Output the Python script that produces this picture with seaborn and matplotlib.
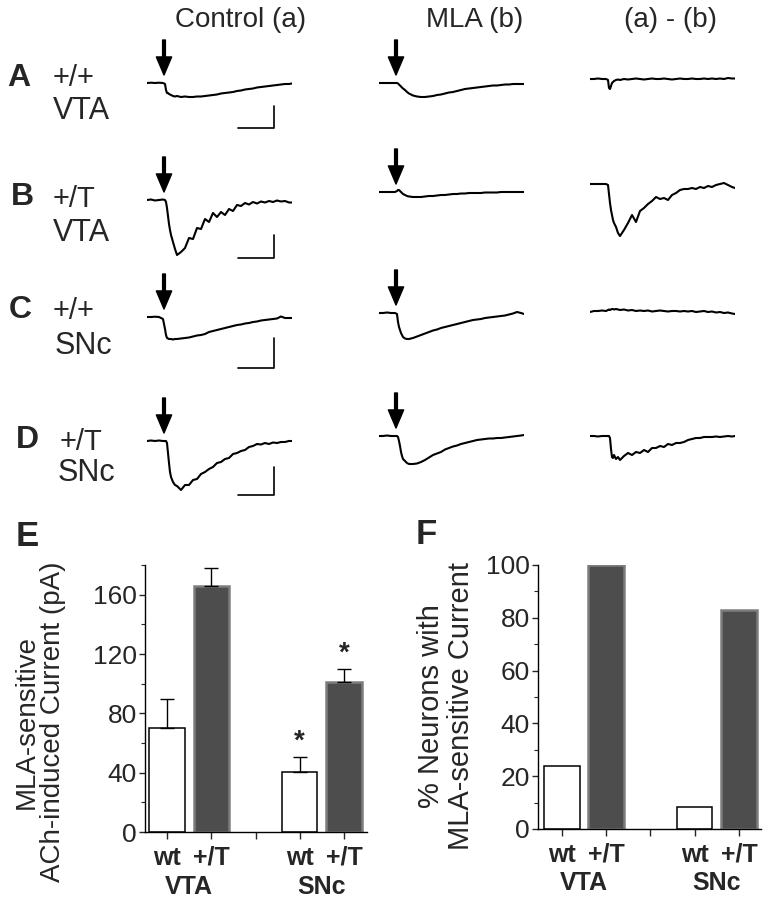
import matplotlib
matplotlib.use('Agg')
import matplotlib.pyplot as plt
import matplotlib.transforms as mtransforms
from matplotlib.ticker import MultipleLocator
import seaborn as sns
import pandas as pd

# ---------------------------------------------------------------
# Whole-cell current traces (rows A-D).
# Time base is shared by every trace (arbitrary units).
# ---------------------------------------------------------------
t = [0, 4, 8, 12, 16, 18, 19, 20, 21, 22, 23, 24, 26, 28, 30, 34, 38, 42, 46, 50,
     54, 58, 62, 66, 70, 74, 78, 82, 86, 90, 94, 98, 102, 106, 110, 114, 118, 122,
     126, 130, 134, 138, 142, 145]

# Control (a)
ctrl_A = [0, 0.3, 0, 0.3, 0, -1, -7, -10, -10, -11, -11.5, -12, -13, -13.5, -13, -14,
          -13.5, -14, -14, -13.5, -13.5, -13, -12.5, -12, -11.5, -10.5, -10, -9.5, -9,
          -8, -7.5, -6.5, -6, -5.5, -4.5, -4, -3.5, -3, -2.5, -2, -1.5, -1, -1, -0.5]
ctrl_B = [0, 0.5, -0.5, 0, 0.5, 0, -2, -8, -16, -24, -30, -35, -42, -49, -55, -52,
          -48, -38, -39, -28, -29, -19, -22, -13, -17, -12, -15, -9, -11, -5, -6, -3,
          -4.5, -2, -3.5, -1.5, -2.5, -1, -2, -0.5, -1.5, -1, -2.5, -2.5]
ctrl_C = [0, 0, 0.3, 0, -2, -12, -18, -21, -21.5, -22, -22, -22, -22.5, -22, -22, -21.5,
          -21, -20.5, -19.5, -18.5, -18, -17, -15, -14, -13, -12, -11, -10, -9, -8,
          -7.5, -6.5, -6, -5, -4.5, -3.5, -3, -2.5, -2, -1.5, 0.5, -1, -1, -1]
ctrl_D = [0, 0.5, 0, 0.5, 0, 0, 0, -2, -12, -22, -31, -36, -41, -44, -45, -49, -44,
          -44, -39, -38, -33, -31, -28, -26, -22, -21, -18, -17, -13, -12, -10, -9,
          -6, -5, -3, -3.5, -2, -3, -1.5, -2, -1, -1, 0, 0]

# MLA (b)
mla_A = [0, 0, 0, 0, 0, 0, -0.5, -1.5, -2.5, -3.5, -4.5, -5.5, -7, -9, -10.5, -12.5,
         -13.5, -14, -14, -13.5, -13, -12, -11.5, -10.5, -9.5, -9, -8, -7, -6, -5.5,
         -5, -4.5, -4, -3.5, -3, -2.5, -2.5, -2, -1.5, -1.5, -1, -1, -1, -1]
mla_B = [8, 8, 8, 8, 8, 9, 10, 10, 9, 8, 7, 6, 5, 4, 3.5, 3, 3, 3, 3.5, 4, 4, 4.5, 5,
         5, 5.5, 6, 6, 6.5, 6.5, 7, 7, 7, 7, 7.5, 7.5, 7.5, 7.5, 8, 8, 8, 8, 8, 8, 8]
mla_C = [4, 4, 4.5, 4, 4, 3, -5, -10, -13, -16, -18, -20, -21.5, -22, -22, -21, -19.5,
         -18, -16.5, -15, -13.5, -12.5, -11, -10, -9, -8, -7, -6, -5, -4, -3, -2.5,
         -2, -1, -0.5, 0, 0.5, 1, 1.5, 2.5, 3.5, 5, 4, 3]
mla_D = [5, 5, 5.5, 5, 5, 5, 4, 0, -5, -11, -15, -18, -20, -22, -23, -23, -22.5, -21,
         -19, -16.5, -14, -12.5, -11, -8.5, -7, -5.5, -4.5, -3, -2, -1, 0, 1, 1.5, 2,
         2.5, 2.5, 3, 3, 3.5, 4, 4.5, 5, 5.5, 6]

# (a) - (b)
diff_A = [4, 4, 4.5, 4, 4, 3, -5, -6, -3, 0, 1, 2, 3, 3.5, 3, 4, 3.5, 4, 4.5, 4, 3.5,
          4, 4.5, 4, 4, 4.5, 4, 3.5, 4, 4.5, 4, 4, 4.5, 4, 4, 4.5, 4, 4.5, 4, 4.5, 4,
          5, 4.5, 4.5]
diff_B = [16, 16, 16, 16, 16, 15, 6, -3, -10, -15, -20, -23, -27, -33, -36, -30, -23,
          -15, -22, -11, -8, -4, -1, 3, 1, 2, 0, 5, 7, 10, 11, 11, 12, 11, 13, 12, 14,
          13, 15, 16, 17, 15, 13, 12]
diff_C = [5, 6, 6, 6.5, 6, 7, 7.5, 7, 7.5, 8, 8, 7.5, 8, 7.5, 7, 7.5, 6.5, 7, 6, 6.5,
          6, 6.5, 5.5, 6, 6.5, 6, 5.5, 6, 6, 5.5, 6, 5.5, 6, 5, 5.5, 6, 5, 5.5, 4.5,
          5, 4, 4.5, 3.5, 3]
diff_D = [5, 5, 4.5, 5, 5, 5, 5, 3, -8, -16, -17, -14, -18, -16, -19, -15, -12, -14,
          -11, -12, -9, -11, -7, -7, -5, -6, -3, -4, -2, -2, -1, 1, 2, 3, 3, 4, 4, 4,
          4.5, 4, 4.5, 5, 4.5, 5]

traces = [[ctrl_A, mla_A, diff_A],
          [ctrl_B, mla_B, diff_B],
          [ctrl_C, mla_C, diff_C],
          [ctrl_D, mla_D, diff_D]]

column_titles = ['Control (a)', 'MLA (b)', '(a) - (b)']
row_letters = ['A', 'B', 'C', 'D']
row_genotypes = ['+/+', '+/T', '+/+', '+/T']
row_regions = ['VTA', 'VTA', 'SNc', 'SNc']

# scale bars (vertical length per row, horizontal length shared)
scale_height = [22, 23, 30, 28]
scale_bottom = [-45, -58, -51, -54]
scale_width = 36

# ---------------------------------------------------------------
# Bar charts E and F
# ---------------------------------------------------------------
bar_region = ['VTA', 'VTA', 'SNc', 'SNc']
bar_genotype = ['wt', '+/T', 'wt', '+/T']
current_mean = [70, 165.6, 40.5, 101]        # pA
current_sem = [20, 12.4, 10, 8.6]
significant = [False, False, True, True]
pct_neurons = [23.7, 100, 8.5, 83]           # %

W, H = 768, 899
sns.set_style('ticks')
plt.rcParams['font.family'] = ['Liberation Sans', 'DejaVu Sans']
plt.rcParams['axes.edgecolor'] = 'black'

fig = plt.figure(figsize=(W / 100, H / 100), dpi=100)


def px_axes(left, top, width, height):
    return fig.add_axes([left / W, 1 - (top + height) / H, width / W, height / H])


# ---- trace panels ----
row_tops = [38, 155, 272, 396]
col_lefts = [147, 379, 590]
for r, row in enumerate(traces):
    for c, y in enumerate(row):
        ax = px_axes(col_lefts[c], row_tops[r], 145, 107)
        sns.lineplot(x=t, y=y, ax=ax, color='black', lw=1.5, estimator=None, sort=False)
        ax.set_xlim(0, 145)
        ax.set_ylim(-62, 45)
        ax.axis('off')
        if c < 2:
            ax.annotate('', xy=(17, y[0] + 8), xytext=(17, y[0] + 43),
                        arrowprops=dict(facecolor='black', edgecolor='black', width=2.0,
                                        headwidth=11, headlength=13, shrink=0),
                        annotation_clip=False)
        if c == 0:
            x1 = 127
            x0 = x1 - scale_width
            b = scale_bottom[r]
            ax.plot([x0, x1, x1], [b, b, b + scale_height[r]], color='black', lw=1.2,
                    clip_on=False)

for title, x in zip(column_titles, [241, 475, 670]):
    fig.text(x / W, 1 - 20 / H, title, ha='center', va='center', fontsize=20)

letter_xy = [(7, 78), (11, 197), (9, 310), (16, 440)]
geno_xy = [(53, 78), (53, 199), (53, 311), (60, 442)]
region_xy = [(53, 111), (53, 233), (55, 346), (58, 473)]
for i in range(4):
    fig.text(letter_xy[i][0] / W, 1 - letter_xy[i][1] / H, row_letters[i],
             ha='left', va='center', fontsize=23, fontweight='bold')
    fig.text(geno_xy[i][0] / W, 1 - geno_xy[i][1] / H, row_genotypes[i],
             ha='left', va='center', fontsize=21)
    fig.text(region_xy[i][0] / W, 1 - region_xy[i][1] / H, row_regions[i],
             ha='left', va='center', fontsize=22)

# ---- bar panels ----
cats = [f'{r} {g}' for r, g in zip(bar_region, bar_genotype)]
order = cats[:2] + [' '] + cats[2:]
xpos = [order.index(cname) for cname in cats]
palette = {'wt': 'white', '+/T': '#4d4d4d'}


def bar_panel(ax, values, ylim, major, minor):
    df = pd.DataFrame({'cat': cats, 'value': values, 'genotype': bar_genotype})
    sns.barplot(data=df, x='cat', y='value', hue='genotype', order=order,
                palette=palette, dodge=False, saturation=1, errorbar=None,
                legend=False, width=0.8, ax=ax)
    for p in ax.patches:
        if p.get_facecolor()[0] > 0.9:
            p.set_edgecolor('black')
            p.set_linewidth(1.1)
        else:
            p.set_edgecolor('#7d7d7d')
            p.set_linewidth(1.8)
    ax.set_ylim(*ylim)
    ax.yaxis.set_major_locator(MultipleLocator(major))
    ax.yaxis.set_minor_locator(MultipleLocator(minor))
    ax.set_xticks(range(len(order)))
    ax.set_xticklabels(['wt', '+/T', '', 'wt', '+/T'], fontweight='bold')
    ax.set_xlabel('')
    ax.set_ylabel('')
    ax.tick_params(axis='x', length=5, width=1, pad=5, labelsize=18)
    ax.tick_params(axis='y', which='major', length=4, width=1, pad=2, labelsize=19)
    ax.tick_params(axis='y', which='minor', length=3, width=0.8)
    sns.despine(ax=ax)
    for s in ['left', 'bottom']:
        ax.spines[s].set_linewidth(1)
    trans = mtransforms.blended_transform_factory(ax.transData, ax.transAxes)
    for reg, idx in [('VTA', xpos[:2]), ('SNc', xpos[2:])]:
        ax.text(sum(idx) / 2, -0.205, reg, transform=trans, ha='center', va='center',
                fontsize=18, fontweight='bold')


axE = px_axes(145, 565, 222, 267)
bar_panel(axE, current_mean, (0, 180), 40, 20)
axE.set_xlim(-0.5, 4.52)
axE.errorbar(xpos, current_mean, yerr=[[0] * 4, current_sem], fmt='none',
             ecolor='black', elinewidth=1, capsize=5, capthick=1)
for x, m, s, sig in zip(xpos, current_mean, current_sem, significant):
    if sig:
        axE.annotate('*', xy=(x, m + s), xytext=(0, 2), textcoords='offset points',
                     ha='center', va='bottom', fontsize=20, fontweight='bold')
fig.text(40 / W, 1 - 722 / H, 'MLA-sensitive\nACh-induced Current (pA)', rotation=90,
         ha='center', va='center', fontsize=20, linespacing=1.05)
fig.text(16 / W, 1 - 537 / H, 'E', ha='left', va='center', fontsize=25, fontweight='bold')

axF = px_axes(538, 565, 223, 264)
bar_panel(axF, pct_neurons, (0, 100), 20, 10)
axF.set_xlim(-0.54, 4.5)
fig.text(446 / W, 1 - 706 / H, '% Neurons with\nMLA-sensitive Current', rotation=90,
         ha='center', va='center', fontsize=21, linespacing=1.05)
fig.text(416 / W, 1 - 535 / H, 'F', ha='left', va='center', fontsize=25, fontweight='bold')

fig.savefig('out.png', dpi=100)
